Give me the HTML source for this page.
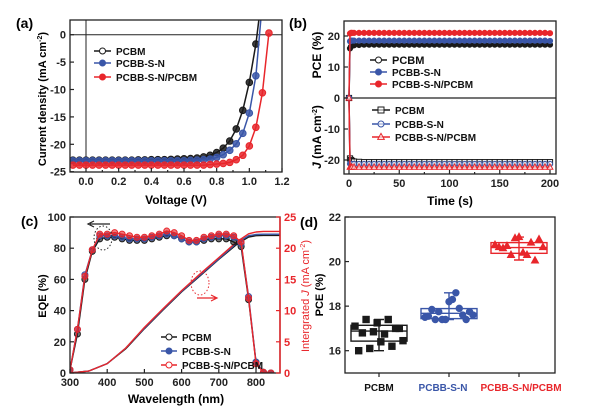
<!DOCTYPE html>
<html><head><meta charset="utf-8"><style>
html,body{margin:0;padding:0;background:#fff;}
svg{display:block;font-family:"Liberation Sans",Arial,sans-serif;font-weight:bold;}
</style></head><body>
<svg id="fig" width="600" height="413" viewBox="0 0 600 413">
<defs>
<clipPath id="clipA"><rect x="70" y="20" width="212" height="152"/></clipPath>
<clipPath id="clipB"><rect x="344" y="21" width="212" height="153"/></clipPath>
<clipPath id="clipC"><rect x="70" y="217" width="210" height="156"/></clipPath>
</defs>
<text x="16" y="28" font-size="14">(a)</text>
<text x="289" y="28" font-size="14">(b)</text>
<text x="21" y="226" font-size="14">(c)</text>
<text x="300" y="227" font-size="14">(d)</text>
<text transform="translate(46,99) rotate(-90)" text-anchor="middle" font-size="11">Current density (mA cm<tspan dy="-4" font-size="7">-2</tspan><tspan dy="4">)</tspan></text>
<text x="176" y="204" text-anchor="middle" font-size="12">Voltage (V)</text>
<text transform="translate(321,55) rotate(-90)" text-anchor="middle" font-size="12">PCE (%)</text>
<text transform="translate(321,137) rotate(-90)" text-anchor="middle" font-size="12"><tspan font-style="italic">J</tspan> (mA cm<tspan dy="-4" font-size="7">-2</tspan><tspan dy="4">)</tspan></text>
<text x="450" y="205" text-anchor="middle" font-size="12">Time (s)</text>
<text transform="translate(46,296) rotate(-90)" text-anchor="middle" font-size="11">EQE (%)</text>
<text x="176" y="403" text-anchor="middle" font-size="12">Wavelength (nm)</text>
<text transform="translate(309,296) rotate(-90)" text-anchor="middle" font-size="11" fill="#e8262b" font-weight="normal">Intergrated <tspan font-style="italic">J</tspan> (mA cm<tspan dy="-4" font-size="7">-2</tspan><tspan dy="4">)</tspan></text>
<text transform="translate(323,295) rotate(-90)" text-anchor="middle" font-size="11">PCE (%)</text>
<text x="379" y="391" text-anchor="middle" font-size="10" fill="#111">PCBM</text>
<text x="443" y="391" text-anchor="middle" font-size="10" fill="#3a56a8">PCBB-S-N</text>
<text x="521" y="391" text-anchor="middle" font-size="10" fill="#e8262b">PCBB-S-N/PCBM</text>
<g id="gA"></g>
<g id="gB"></g>
<g id="gC"></g>
<g id="gD"></g>
</svg>
<script>
const aVoltage=[-0.08,-0.04,0,0.04,0.08,0.12,0.16,0.2,0.24,0.28,0.32,0.36,0.4,0.44,0.48,0.52,0.56,0.6,0.64,0.68,0.72,0.76,0.8,0.84,0.88,0.92,0.96,1.0,1.04,1.08,1.12];
const aPcbm=[-22.9,-22.9,-22.9,-22.9,-22.9,-22.9,-22.9,-22.9,-22.9,-22.9,-22.85,-22.85,-22.8,-22.8,-22.8,-22.75,-22.7,-22.65,-22.6,-22.5,-22.3,-22.0,-21.5,-20.7,-19.4,-17.2,-13.8,-8.7,-1.7,8,null];
const aPcbbsn=[-23.0,-23.0,-23.0,-23.0,-23.0,-23.0,-23.0,-23.0,-23.0,-23.0,-23.0,-23.0,-23.0,-23.0,-23.0,-23.0,-23.0,-23.0,-22.95,-22.9,-22.8,-22.7,-22.4,-21.9,-21.1,-19.9,-18.0,-14.3,-7.5,6,null];
const aMixed=[-23.8,-23.8,-23.8,-23.8,-23.8,-23.8,-23.8,-23.8,-23.8,-23.8,-23.8,-23.8,-23.8,-23.8,-23.8,-23.8,-23.8,-23.8,-23.8,-23.8,-23.8,-23.7,-23.6,-23.5,-23.3,-22.8,-22.0,-20.3,-16.9,-10.6,0.3];
const aXTicks=[0,0.2,0.4,0.6,0.8,1.0,1.2];
const aXLabels=["0.0","0.2","0.4","0.6","0.8","1.0","1.2"];
const aYTicks=[0,-5,-10,-15,-20,-25];
const bTime=[0,1,2,3,5,10,15,20,25,30,35,40,45,50,55,60,65,70,75,80,85,90,95,100,105,110,115,120,125,130,135,140,145,150,155,160,165,170,175,180,185,190,195,200];
const bPcePcbm=[0,16.0,16.6,16.9,17.0,17.1,17.2,17.2,17.2,17.2,17.2,17.2,17.2,17.2,17.2,17.2,17.2,17.2,17.2,17.2,17.2,17.2,17.2,17.2,17.2,17.2,17.2,17.2,17.2,17.2,17.2,17.2,17.2,17.2,17.2,17.2,17.2,17.2,17.2,17.2,17.2,17.2,17.2,17.2];
const bPcePcbbsn=[0,18.3,18.5,18.5,18.5,18.5,18.5,18.5,18.5,18.5,18.5,18.5,18.5,18.5,18.5,18.5,18.5,18.5,18.5,18.5,18.5,18.5,18.5,18.5,18.5,18.5,18.5,18.5,18.5,18.5,18.5,18.5,18.5,18.5,18.5,18.5,18.5,18.5,18.5,18.5,18.5,18.5,18.5,18.4];
const bPceMixed=[0,20.8,21.0,21.0,21.0,21.0,21.0,21.0,21.0,21.0,21.0,21.0,21.0,21.0,21.0,21.0,21.0,21.0,21.0,21.0,21.0,21.0,21.0,21.0,21.0,21.0,21.0,21.0,21.0,21.0,21.0,21.0,21.0,21.0,21.0,21.0,21.0,21.0,21.0,21.0,21.0,21.0,21.0,20.9];
const bJPcbm=[0,-19.5,-20.0,-20.3,-20.5,-20.6,-20.7,-20.7,-20.7,-20.7,-20.7,-20.7,-20.7,-20.7,-20.7,-20.7,-20.7,-20.7,-20.7,-20.7,-20.7,-20.7,-20.7,-20.7,-20.7,-20.7,-20.7,-20.7,-20.7,-20.7,-20.7,-20.7,-20.7,-20.7,-20.7,-20.7,-20.7,-20.7,-20.7,-20.7,-20.7,-20.7,-20.7,-20.7];
const bJPcbbsn=[0,-21.2,-21.3,-21.3,-21.3,-21.3,-21.3,-21.3,-21.3,-21.3,-21.3,-21.3,-21.3,-21.3,-21.3,-21.3,-21.3,-21.3,-21.3,-21.3,-21.3,-21.3,-21.3,-21.3,-21.3,-21.3,-21.3,-21.3,-21.3,-21.3,-21.3,-21.3,-21.3,-21.3,-21.3,-21.3,-21.3,-21.3,-21.3,-21.3,-21.3,-21.3,-21.3,-21.3];
const bJMixed=[0,-22.3,-22.3,-22.3,-22.3,-22.3,-22.3,-22.3,-22.3,-22.3,-22.3,-22.3,-22.3,-22.3,-22.3,-22.3,-22.3,-22.3,-22.3,-22.3,-22.3,-22.3,-22.3,-22.3,-22.3,-22.3,-22.3,-22.3,-22.3,-22.3,-22.3,-22.3,-22.3,-22.3,-22.3,-22.3,-22.3,-22.3,-22.3,-22.3,-22.3,-22.3,-22.3,-22.3];
const bXTicks=[0,50,100,150,200];
const bYTicks=[20,10,0,-10,-20];
const cWl=[300,320,340,360,380,400,420,440,460,480,500,520,540,560,580,600,620,640,660,680,700,720,740,760,780,800,820,840];
const cEqePcbm=[2,25,60,78,86,87,87,86,85,85,85,86,87,88,88,86,84,84,85,86,86,86,84,81,47,7,0.5,0];
const cEqePcbbsn=[2,28,63,79,88,88,88,87,86,86,86,87,88,89,88,86,84,84,86,87,88,88,87,83,49,7,0.5,0];
const cEqeMixed=[2,28,62,79,89,89,90,89,88,87,87,88,89,91,90,88,85,85,87,88,89,89,88,84,48,6,0.5,0];
const cJWl=[300,350,400,450,500,550,600,650,700,750,780,800,820,864];
const cJPcbm=[0,0.3,1.5,3.9,7.1,10.1,13.0,15.6,18.2,20.7,21.8,22.0,22.05,22.05];
const cJPcbbsn=[0,0.3,1.5,4.0,7.2,10.2,13.1,15.7,18.3,20.9,22.0,22.2,22.25,22.25];
const cJMixed=[0,0.3,1.5,4.0,7.3,10.3,13.2,15.9,18.5,21.1,22.3,22.6,22.7,22.7];
const cXTicks=[300,400,500,600,700,800];
const cYTicks=[0,20,40,60,80,100];
const cY2Ticks=[0,5,10,15,20,25];
const dCategories=["PCBM","PCBB-S-N","PCBB-S-N/PCBM"];
const dPcbmVals=[17.1,16.0,16.8,17.4,16.1,16.85,17.25,16.4,16.75,17.4,16.2,17.0,17.0,16.45];
const dPcbbsnVals=[17.5,17.55,17.85,17.4,17.75,17.4,17.4,18.2,18.3,18.6,17.9,17.6,17.4,17.75,17.6];
const dMixedVals=[20.75,20.65,20.6,20.7,20.3,21.05,21.1,20.4,20.3,20.85,20.05,21.0,20.65];
const dBoxLow=[16.43,17.44,20.37];
const dBoxMed=[16.88,17.68,20.63];
const dBoxHigh=[17.14,17.89,20.85];
const dWhiskLow=[16.0,17.4,20.07];
const dWhiskHigh=[17.4,18.6,21.1];
const dYTicks=[16,18,20,22];

const NS='http://www.w3.org/2000/svg';
const K='#1a1a1a',B='#3a56a8',R='#e8262b';
function mk(tag,attrs,parent){const e=document.createElementNS(NS,tag);for(const k in attrs)e.setAttribute(k,attrs[k]);parent.appendChild(e);return e;}
function lin(d0,d1,r0,r1){return v=>r0+(v-d0)*(r1-r0)/(d1-d0);}
function frame(g,x,y,w,h,name){
  const r=mk('rect',{x:x,y:y,width:w,height:h,fill:'none',stroke:'#222','stroke-width':1.3},g);
  
  
}
function xTicks(g,ticks,labels,sx,yb,len,name){
  ticks.forEach((t,i)=>{
    const l=mk('line',{x1:sx(t),x2:sx(t),y1:yb,y2:yb-len,stroke:'#222','stroke-width':1.2},g);
    
    
    if(labels){
      const tx=mk('text',{x:sx(t),y:yb+13,'text-anchor':'middle','font-size':11,fill:'#222'},g);
      tx.textContent=labels[i];
      
      
    }
  });
}
function yTicks(g,ticks,sy,xl,len,name,color,right){
  ticks.forEach(t=>{
    const l=mk('line',{x1:xl,x2:xl+(right?-len:len),y1:sy(t),y2:sy(t),stroke:color||'#222','stroke-width':1.2},g);
    
    
    const tx=mk('text',{x:right?xl+4:xl-4,y:sy(t)+4,'text-anchor':right?'start':'end','font-size':11,fill:color||'#222'},g);
    tx.textContent=String(t);
    
    
  });
}
function line(g,xs,ys,sx,sy,color,w,name,clip){
  const pts=[];xs.forEach((x,i)=>{if(ys[i]!==null)pts.push(sx(x).toFixed(1)+','+sy(ys[i]).toFixed(1));});
  const p=mk('polyline',{points:pts.join(' '),fill:'none',stroke:color,'stroke-width':w,'stroke-linejoin':'round'},g);
  if(clip)p.setAttribute('clip-path','url(#'+clip+')');
  
  
}
function marker(g,shape,x,y,r,color,filled,name){
  let m;
  if(shape==='square'){m=mk('rect',{x:x-r,y:y-r,width:2*r,height:2*r},g);}
  else if(shape==='triangle'){m=mk('polygon',{points:`${x},${y-r*1.2} ${x-r*1.1},${y+r*0.8} ${x+r*1.1},${y+r*0.8}`},g);}
  else {m=mk('circle',{cx:x,cy:y,r:r},g);}
  m.setAttribute('fill',filled?color:'#fff');
  m.setAttribute('fill-opacity',filled?1:0.6);
  m.setAttribute('stroke',color);
  m.setAttribute('stroke-width',1);
  
  
  return m;
}
function legendEntry(g,x1,x2,y,color,shape,filled,label,fs,name){
  const l=mk('line',{x1:x1,x2:x2,y1:y,y2:y,stroke:color,'stroke-width':1.5},g);
  
  
  const m=marker(g,shape,(x1+x2)/2,y,3,color,filled,name+'-marker');
  if(filled==='half'){m.setAttribute('fill','#fff');}
  const t=mk('text',{x:x2+5,y:y+4,'font-size':fs,fill:'#111'},g);
  t.textContent=label;
  
  
}

(function(){
  const g=document.getElementById('gA');
  const sx=lin(0,1.2,86,282), sy=lin(0,-25,34.7,171.7);
  const z1=mk('line',{x1:sx(0),x2:sx(0),y1:20,y2:172,stroke:'#222','stroke-width':1},g);
  
  
  const z2=mk('line',{x1:70,x2:282,y1:sy(0),y2:sy(0),stroke:'#222','stroke-width':1},g);
  
  
  const series=[[aPcbm,K,'pcbm'],[aPcbbsn,B,'pcbb-s-n'],[aMixed,R,'pcbb-s-n-pcbm']];
  series.forEach(([ys,c,n])=>{
    line(g,aVoltage,ys,sx,sy,c,1.5,'a-jv-line-'+n,'clipA');
    const mg=mk('g',{'clip-path':'url(#clipA)'},g);
    
    
    aVoltage.forEach((v,i)=>{if(ys[i]!==null){const m=marker(mg,'circle',sx(v),sy(ys[i]),3.3,c,true,'a-point-'+n);m.setAttribute('fill-opacity',0.85);}});
  });
  frame(g,70,20,212,152,'a-plot-frame');
  xTicks(g,aXTicks,aXLabels,sx,172,4,'a-x');
  xTicks(g,[0.1,0.3,0.5,0.7,0.9,1.1],null,sx,172,2,'a-x-minor');
  yTicks(g,aYTicks,sy,70,4,'a-y');
  legendEntry(g,94,111,51,K,'circle','half','PCBM',10,'a-legend-pcbm');
  legendEntry(g,94,111,63,B,'circle',true,'PCBB-S-N',10,'a-legend-pcbb-s-n');
  legendEntry(g,94,111,77,R,'circle',true,'PCBB-S-N/PCBM',10,'a-legend-pcbb-s-n-pcbm');
})();

(function(){
  const g=document.getElementById('gB');
  const sx=lin(0,200,349,550), sy=lin(0,20,98,36);
  const z=mk('line',{x1:344,x2:556,y1:sy(0),y2:sy(0),stroke:'#222','stroke-width':1.2},g);
  
  
  const series=[[bPcePcbm,K,'circle',true,'pce-pcbm'],[bPcePcbbsn,B,'circle',true,'pce-pcbb-s-n'],[bPceMixed,R,'circle',true,'pce-pcbb-s-n-pcbm'],
    [bJPcbm,K,'square',false,'j-pcbm'],[bJPcbbsn,B,'circle',false,'j-pcbb-s-n'],[bJMixed,R,'triangle',false,'j-pcbb-s-n-pcbm']];
  series.forEach(([ys,c,sh,f,n])=>{
    line(g,bTime,ys,sx,sy,c,1.5,'b-line-'+n,'clipB');
    const mg=mk('g',{'clip-path':'url(#clipB)'},g);
    
    
    bTime.forEach((t,i)=>{marker(mg,sh,sx(t),sy(ys[i]),2.6,c,f,'b-point-'+n);});
  });
  frame(g,344,21,212,153,'b-plot-frame');
  xTicks(g,bXTicks,bXTicks.map(String),sx,174,4,'b-x');
  xTicks(g,[25,75,125,175],null,sx,174,2,'b-x-minor');
  yTicks(g,bYTicks,sy,344,4,'b-y');
  legendEntry(g,370,387,60,K,'circle','half','PCBM',11,'b-legend-pce-pcbm');
  legendEntry(g,370,387,72,B,'circle',true,'PCBB-S-N',10,'b-legend-pce-pcbb-s-n');
  legendEntry(g,370,387,84,R,'circle',true,'PCBB-S-N/PCBM',10,'b-legend-pce-pcbb-s-n-pcbm');
  legendEntry(g,372,390,110,K,'square',false,'PCBM',10,'b-legend-j-pcbm');
  legendEntry(g,372,390,124,B,'circle',false,'PCBB-S-N',10,'b-legend-j-pcbb-s-n');
  legendEntry(g,372,390,137,R,'triangle',false,'PCBB-S-N/PCBM',10,'b-legend-j-pcbb-s-n-pcbm');
})();

(function(){
  const g=document.getElementById('gC');
  const sx=lin(300,800,70,256), sy=lin(0,100,373,217), sy2=lin(0,25,373,217);
  [[cJPcbm,K,'pcbm'],[cJPcbbsn,B,'pcbb-s-n'],[cJMixed,R,'pcbb-s-n-pcbm']].forEach(([ys,c,n])=>{
    line(g,cJWl,ys,sx,sy2,c,1.4,'c-integrated-j-'+n,'clipC');
  });
  [[cEqePcbm,K,'pcbm'],[cEqePcbbsn,B,'pcbb-s-n'],[cEqeMixed,R,'pcbb-s-n-pcbm']].forEach(([ys,c,n])=>{
    line(g,cWl,ys,sx,sy,c,1.4,'c-eqe-line-'+n,'clipC');
    const mg=mk('g',{'clip-path':'url(#clipC)'},g);
    
    
    cWl.forEach((w,i)=>{const m=marker(mg,'circle',sx(w),sy(ys[i]),3,c,true,'c-eqe-point-'+n);m.setAttribute('fill-opacity',0.6);});
  });
  frame(g,70,217,210,156,'c-plot-frame');
  const ra=mk('line',{x1:280,x2:280,y1:217,y2:373,stroke:R,'stroke-width':1.5},g);
  
  
  xTicks(g,cXTicks,cXTicks.map(String),sx,373,4,'c-x');
  yTicks(g,cYTicks,sy,70,4,'c-y');
  yTicks(g,cY2Ticks,sy2,280,4,'c-y2',R,true);
  const a1=mk('ellipse',{cx:103,cy:238,rx:9,ry:12,fill:'none',stroke:'#222','stroke-dasharray':'1.5,2'},g);
  
  
  const a2=mk('path',{d:'M110,224 H90 M94,221 L88,224 L94,227',fill:'none',stroke:'#222','stroke-width':1.2},g);
  
  
  const a3=mk('ellipse',{cx:200,cy:283,rx:9,ry:12,fill:'none',stroke:R,'stroke-dasharray':'1.5,2'},g);
  
  
  const a4=mk('path',{d:'M197,298 H216 M211,295 L217,298 L211,301',fill:'none',stroke:R,'stroke-width':1.2},g);
  
  
  legendEntry(g,161,177,337,K,'circle','half','PCBM',10,'c-legend-pcbm');
  legendEntry(g,161,177,351,B,'circle',true,'PCBB-S-N',10,'c-legend-pcbb-s-n');
  legendEntry(g,161,177,365,R,'circle','half','PCBB-S-N/PCBM',10,'c-legend-pcbb-s-n-pcbm');
})();

(function(){
  const g=document.getElementById('gD');
  const sy=lin(16,22,350.7,217);
  const sx=lin(0,2,379,519);
  const vals=[dPcbmVals,dPcbbsnVals,dMixedVals], cols=[K,B,R], shapes=['square','circle','triangle'], names=['pcbm','pcbb-s-n','pcbb-s-n-pcbm'];
  vals.forEach((vs,ci)=>{
    const cx=sx(ci), c=cols[ci], n=names[ci];
    const box=mk('rect',{x:cx-28,y:sy(dBoxHigh[ci]),width:56,height:sy(dBoxLow[ci])-sy(dBoxHigh[ci]),fill:'none',stroke:c,'stroke-width':1.4},g);
    
    
    const md=mk('line',{x1:cx-28,x2:cx+28,y1:sy(dBoxMed[ci]),y2:sy(dBoxMed[ci]),stroke:c,'stroke-width':1.4},g);
    
    
    const wk=mk('path',{d:`M${cx},${sy(dWhiskLow[ci])} V${sy(dWhiskHigh[ci])} M${cx-5},${sy(dWhiskLow[ci])} H${cx+5} M${cx-5},${sy(dWhiskHigh[ci])} H${cx+5}`,fill:'none',stroke:c,'stroke-width':1.4},g);
    
    
    vs.forEach((v,i)=>{
      const off=(i/(vs.length-1)-0.5)*48;
      marker(g,shapes[ci],cx+off,sy(v),3.2,c,true,'d-point-'+n);
    });
  });
  frame(g,345,217,210,156,'d-plot-frame');
  yTicks(g,dYTicks,sy,345,4,'d-y');
  xTicks(g,[0,1,2],null,sx,377,4,'d-x');
})();
</script>
</body></html>
